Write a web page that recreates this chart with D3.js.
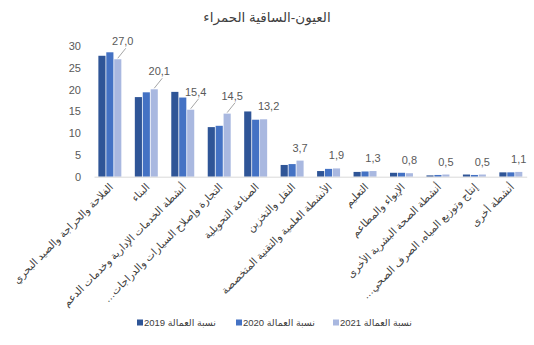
<!DOCTYPE html>
<html>
<head>
<meta charset="utf-8">
<script src="https://cdn.jsdelivr.net/npm/d3@7"></script>
<style>
  html, body { margin: 0; padding: 0; background: #fff; }
  svg { display: block; font-family: "Liberation Sans", "DejaVu Sans", Arial, sans-serif; }
</style>
</head>
<body>
<svg id="chart" width="534" height="345"></svg>
<script>
// Employment share by economic activity, Laayoune-Sakia El Hamra
const title = "العيون-الساقية الحمراء";

const categories = [
  "الفلاحة والحراجة والصيد البحري",
  "البناء",
  "أنشطة الخدمات الإدارية وخدمات الدعم",
  "التجارة وإصلاح السيارات والدراجات…",
  "الصناعة التحويلية",
  "النقل والتخزين",
  "الأنشطة العلمية والتقنية المتخصصة",
  "التعليم",
  "الإيواء والمطاعم",
  "أنشطة الصحة البشرية الأخرى",
  "إنتاج وتوزيع المياه، الصرف الصحي…",
  "أنشطة أخرى"
];

const years = ["2019", "2020", "2021"];
const seriesNames = ["نسبة العمالة 2019", "نسبة العمالة 2020", "نسبة العمالة 2021"];

const values2019 = [27.8, 18.3, 19.5, 11.4, 15.0, 2.7, 1.3, 1.1, 0.9, 0.3, 0.5, 1.0];
const values2020 = [28.6, 19.4, 18.2, 11.7, 13.1, 2.9, 1.8, 1.2, 0.9, 0.4, 0.4, 1.0];
const values2021 = [27.0, 20.1, 15.4, 14.5, 13.2, 3.7, 1.9, 1.3, 0.8, 0.5, 0.5, 1.1];

const yTicks = [0, 5, 10, 15, 20, 25, 30];

const colors = ["#2F5597", "#4472C4", "#A9B8E0"];

const series = [values2019, values2020, values2021];
const table = categories.map((c, i) => ({
  category: c,
  vals: years.map((y, k) => ({ year: y, k, v: series[k][i] }))
}));

const svg = d3.select("#chart");
const textColor = "#595959";

// Scales
const x0 = d3.scaleBand().domain(categories).range([94, 526.7])
  .paddingInner(0.37).paddingOuter(0.12);
const x1 = d3.scaleBand().domain(years).range([0, x0.bandwidth()]).paddingInner(0.1);
const y = d3.scaleLinear().domain([0, 30]).range([176.7, 46.2]);

// Title
svg.append("text")
  .attr("x", 267).attr("y", 22)
  .attr("text-anchor", "middle")
  .attr("font-size", 13.5)
  .attr("fill", "#404040")
  .text(title);

// Y axis (labels only)
const yAxis = d3.axisLeft(y).tickValues(yTicks).tickSize(0).tickPadding(0)
  .tickFormat(d3.format("d"));
const yg = svg.append("g").attr("transform", "translate(81,0)").call(yAxis);
yg.select(".domain").remove();
yg.selectAll("text").attr("font-size", 11).attr("fill", textColor)
  .style("font-family", "'Liberation Sans', Arial, sans-serif");

// Bars
const groups = svg.append("g").selectAll("g").data(table).join("g")
  .attr("transform", d => `translate(${x0(d.category)},0)`);

groups.selectAll("rect").data(d => d.vals).join("rect")
  .attr("x", d => x1(d.year))
  .attr("y", d => y(d.v))
  .attr("width", x1.bandwidth())
  .attr("height", d => y(0) - y(d.v))
  .attr("fill", d => colors[d.k]);

// X axis baseline
const xAxis = d3.axisBottom(x0).tickSize(0).tickFormat("");
const xg = svg.append("g").attr("transform", `translate(0,${y(0)})`).call(xAxis);
xg.select(".domain").attr("stroke", "#d9d9d9").attr("stroke-width", 1);

// Category labels, rotated
const fmt = v => d3.format(".1f")(v).replace(".", ",");
svg.append("g").selectAll("text").data(categories).join("text")
  .attr("transform", c => {
    const cx = x0(c) + x0.bandwidth() / 2 + 4;
    return `translate(${cx},${y(0) + 11}) rotate(-45)`;
  })
  .attr("text-anchor", "end")
  .attr("font-size", 10.5)
  .attr("fill", "#404040")
  .text(c => c + "\u200F");

// Data labels on the 2021 bars
const lbl = svg.append("g");
table.forEach(d => {
  const v = d.vals[2].v;
  const bx = x0(d.category) + x1("2021") + x1.bandwidth() / 2;
  const big = v > 14;
  const tx = bx + (v > 10 ? 5 : 0);
  const ty = y(v) - (big ? 14 : 9);
  if (big) {
    lbl.append("line")
      .attr("x1", bx).attr("y1", y(v) - 1)
      .attr("x2", tx + 3).attr("y2", ty + 3)
      .attr("stroke", "#a6a6a6").attr("stroke-width", 1);
  }
  lbl.append("text")
    .attr("x", tx).attr("y", ty)
    .attr("text-anchor", "middle")
    .attr("font-size", 11)
    .attr("fill", textColor)
    .text(fmt(v));
});

// Legend
const legendX = [137, 236, 333];
const lg = svg.append("g").selectAll("g").data(seriesNames).join("g")
  .attr("transform", (d, i) => `translate(${legendX[i]},326)`);
lg.append("rect").attr("x", 0).attr("y", -6.5).attr("width", 6).attr("height", 6)
  .attr("fill", (d, i) => colors[i]);
lg.append("text").attr("x", 7).attr("y", 0)
  .attr("font-size", 9.5)
  .attr("fill", "#404040")
  .text(d => d);
</script>
</body>
</html>
